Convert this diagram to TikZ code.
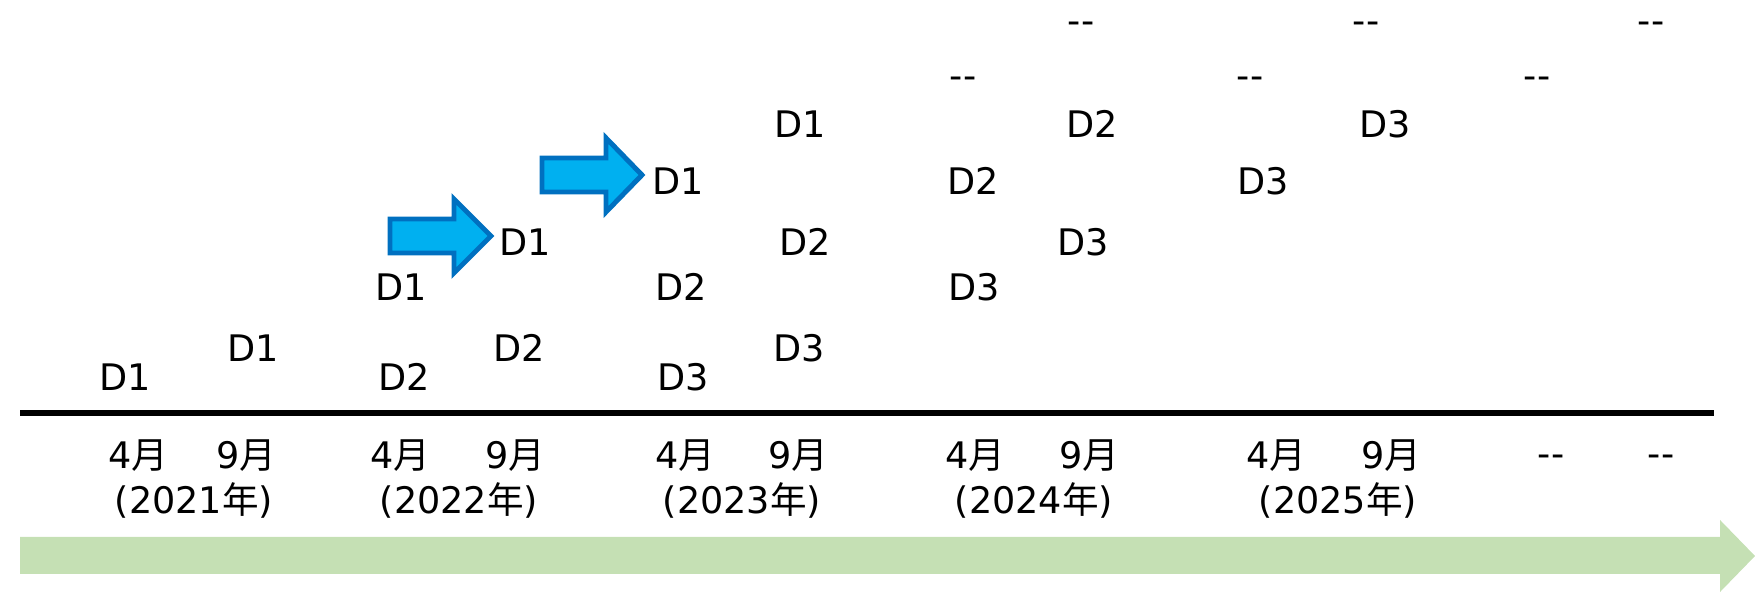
\documentclass[tikz,border=0pt]{standalone}
\usepackage{fontspec}
\setmainfont{DejaVu Sans}
\newfontfamily\cjk{Noto Sans CJK JP}
\newcommand{\tuki}{{\cjk 月}}
\newcommand{\nen}{{\cjk 年}}
\definecolor{arrowfill}{HTML}{00B0F0}
\definecolor{arrowline}{HTML}{0070C0}
\definecolor{timegreen}{HTML}{C5E0B4}
\begin{document}
\begin{tikzpicture}[x=0.01cm,y=-0.01cm,
  lbl/.style={inner sep=0pt,text height=0.73em,text depth=0pt,font=\fontsize{10.4}{12}\selectfont},
  bluearrow/.style={fill=arrowfill,draw=arrowline,line width=1.4pt,line join=miter}]
\useasboundingbox (0,0) rectangle (1755,592);
% green timeline arrow
\fill[timegreen] (20,537) -- (1720,537) -- (1720,520) -- (1755,556) -- (1720,592) -- (1720,574) -- (20,574) -- cycle;
% axis line
\coordinate (axL) at (20,413);
\coordinate (axR) at (1714,413);
\draw[line width=1.7pt] (axL) -- (axR);
% blue arrows
\draw[bluearrow] (390,219) -- (454,219) -- (454,199) -- (491,236) -- (454,273) -- (454,253) -- (390,253) -- cycle;
\draw[bluearrow] (542,158) -- (606,158) -- (606,138) -- (642,175) -- (606,212) -- (606,192) -- (542,192) -- cycle;
% D labels
\node[lbl] (a1) at (125,378) {D1};
\node[lbl] (a2) at (253,349) {D1};
\node[lbl] (a3) at (401,288) {D1};
\node[lbl] (a4) at (404,378) {D2};
\node[lbl] (a5) at (525,243) {D1};
\node[lbl] (a6) at (519,349) {D2};
\node[lbl] (a7) at (678,182) {D1};
\node[lbl] (a8) at (681,288) {D2};
\node[lbl] (a9) at (683,378) {D3};
\node[lbl] (a10) at (800,125) {D1};
\node[lbl] (a11) at (805,243) {D2};
\node[lbl] (a12) at (799,349) {D3};
\node[lbl] (a13) at (963,76) {{-}{-}};
\node[lbl] (a14) at (973,182) {D2};
\node[lbl] (a15) at (974,288) {D3};
\node[lbl] (a16) at (1081,21) {{-}{-}};
\node[lbl] (a17) at (1092,125) {D2};
\node[lbl] (a18) at (1083,243) {D3};
\node[lbl] (a19) at (1250,76) {{-}{-}};
\node[lbl] (a20) at (1263,182) {D3};
\node[lbl] (a21) at (1366,21) {{-}{-}};
\node[lbl] (a22) at (1385,125) {D3};
\node[lbl] (a23) at (1537,76) {{-}{-}};
\node[lbl] (a24) at (1651,21) {{-}{-}};
% bottom labels
\node[lbl] (m1a) at (138,456) {4\tuki};
\node[lbl] (m1b) at (246,456) {9\tuki};
\node[lbl] (y1) at (194,501) {(2021\nen)};
\node[lbl] (m2a) at (400,456) {4\tuki};
\node[lbl] (m2b) at (515,456) {9\tuki};
\node[lbl] (y2) at (459,501) {(2022\nen)};
\node[lbl] (m3a) at (685,456) {4\tuki};
\node[lbl] (m3b) at (798,456) {9\tuki};
\node[lbl] (y3) at (742,501) {(2023\nen)};
\node[lbl] (m4a) at (975,456) {4\tuki};
\node[lbl] (m4b) at (1089,456) {9\tuki};
\node[lbl] (y4) at (1034,501) {(2024\nen)};
\node[lbl] (m5a) at (1276,456) {4\tuki};
\node[lbl] (m5b) at (1391,456) {9\tuki};
\node[lbl] (y5) at (1338,501) {(2025\nen)};
\node[lbl] (m6a) at (1551,454) {{-}{-}};
\node[lbl] (m6b) at (1661,454) {{-}{-}};
\end{tikzpicture}
\end{document}
